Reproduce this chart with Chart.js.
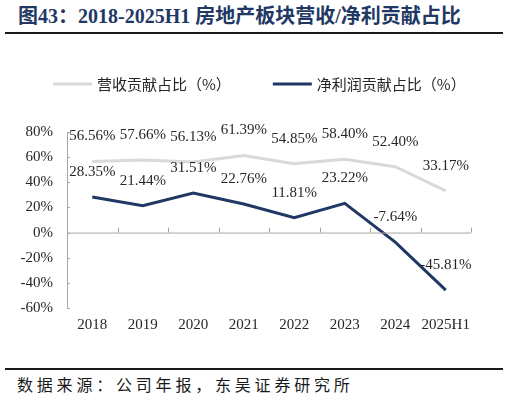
<!DOCTYPE html>
<html>
<head>
<meta charset="utf-8">
<script src="https://cdn.jsdelivr.net/npm/chart.js@4"></script>
<style>
  html, body { margin:0; padding:0; background:#fff; }
  body { width:509px; height:402px; position:relative; overflow:hidden; }
  #title { position:absolute; left:18px; top:4px; font:bold 20px "Liberation Serif","Noto Sans CJK SC",serif; color:#1f3864; line-height:24px; white-space:nowrap; }
  .rule { position:absolute; left:5px; width:498px; height:2px; background:#1a1a1a; }
  #foot { position:absolute; left:17px; top:374px; font:16px "Noto Sans CJK SC",sans-serif; letter-spacing:3.8px; color:#1a1a1a; line-height:20px; white-space:nowrap; }
  #wrap { position:absolute; left:0; top:40px; width:509px; height:320px; }
</style>
</head>
<body>
<div id="title">图43：2018-2025H1 房地产板块营收/净利贡献占比</div>
<div class="rule" style="top:32px"></div>
<div id="wrap"><canvas id="c"></canvas></div>
<div class="rule" style="top:368px"></div>
<div id="foot">数据来源：公司年报，东吴证券研究所</div>
<script>
const categories = ["2018","2019","2020","2021","2022","2023","2024","2025H1"];
const revenueShare = [56.56, 57.66, 56.13, 61.39, 54.85, 58.40, 52.40, 33.17];
const profitShare = [28.35, 21.44, 31.51, 22.76, 11.81, 23.22, -7.64, -45.81];
const seriesNames = ["营收贡献占比（%）", "净利润贡献占比（%）"];
const yTicks = [-60, -40, -20, 0, 20, 40, 60, 80];

const axisColor = "#a6a6a6";
const textColor = "#262626";
const numFont = '"Liberation Serif","Times New Roman",serif';

const decorPlugin = {
  id: "decor",
  afterDatasetsDraw(chart) {
    const ctx = chart.ctx;
    const x = chart.scales.x, y = chart.scales.y;
    const area = chart.chartArea;
    ctx.save();
    // zero line with upward ticks at category boundaries
    const y0 = y.getPixelForValue(0);
    ctx.strokeStyle = axisColor;
    ctx.lineWidth = 1;
    ctx.beginPath();
    ctx.moveTo(area.left, y0 + 0.5);
    ctx.lineTo(area.right, y0 + 0.5);
    for (let i = 0; i <= categories.length; i++) {
      const px = Math.round(area.left + (area.right - area.left) * i / categories.length) + 0.5;
      ctx.moveTo(px, y0);
      ctx.lineTo(px, y0 - 5);
    }
    ctx.stroke();
    // y axis small inward ticks
    ctx.beginPath();
    yTicks.forEach(v => {
      const py = Math.round(y.getPixelForValue(v)) + 0.5;
      ctx.moveTo(area.left, py);
      ctx.lineTo(area.left + 3, py);
    });
    ctx.stroke();
    ctx.restore();
  },
  afterDraw(chart) {
    const ctx = chart.ctx;
    ctx.save();
    // data labels
    ctx.font = "15px " + numFont;
    ctx.fillStyle = textColor;
    ctx.textAlign = "center";
    ctx.textBaseline = "middle";
    chart.data.datasets.forEach((ds, di) => {
      const meta = chart.getDatasetMeta(di);
      meta.data.forEach((pt, i) => {
        const v = ds.data[i];
        ctx.fillText(v.toFixed(2) + "%", pt.x, pt.y - 25);
      });
    });
    // legend
    ctx.font = '15px "Noto Sans CJK SC",sans-serif';
    ctx.textAlign = "left";
    let lx = 53;
    const ly = 44;
    chart.data.datasets.forEach(ds => {
      ctx.strokeStyle = ds.borderColor;
      ctx.lineWidth = 3;
      ctx.beginPath();
      ctx.moveTo(lx, ly);
      ctx.lineTo(lx + 39, ly);
      ctx.stroke();
      ctx.fillStyle = textColor;
      ctx.fillText(ds.label, lx + 44, ly);
      lx = lx + 44 + ctx.measureText(ds.label).width + 42;
    });
    ctx.restore();
  }
};

new Chart(document.getElementById("c"), {
  type: "line",
  data: {
    labels: categories,
    datasets: [
      { label: seriesNames[0], data: revenueShare, borderColor: "#d9d9d9", backgroundColor: "#d9d9d9", borderWidth: 3, pointRadius: 0, tension: 0 },
      { label: seriesNames[1], data: profitShare, borderColor: "#1f3864", backgroundColor: "#1f3864", borderWidth: 3, pointRadius: 0, tension: 0 }
    ]
  },
  options: {
    responsive: true,
    maintainAspectRatio: false,
    animation: false,
    events: [],
    layout: { padding: { top: 92, right: 38, left: 0, bottom: 0 } },
    plugins: { legend: { display: false }, tooltip: { enabled: false } },
    scales: {
      x: {
        offset: true,
        grid: { display: false, drawTicks: false },
        border: { display: false },
        ticks: { color: textColor, font: { size: 15, family: numFont }, padding: 8, maxRotation: 0, autoSkip: false },
        afterFit(s) { s.height = 52; }
      },
      y: {
        min: -60, max: 80,
        grid: { display: false, drawTicks: false },
        border: { display: true, color: axisColor, width: 1 },
        afterBuildTicks(s) { s.ticks = yTicks.map(v => ({ value: v })); },
        ticks: { color: textColor, font: { size: 15, family: numFont }, padding: 14, callback: v => v + "%" },
        afterFit(s) { s.width = 67; }
      }
    }
  },
  plugins: [decorPlugin]
});
</script>
</body>
</html>
